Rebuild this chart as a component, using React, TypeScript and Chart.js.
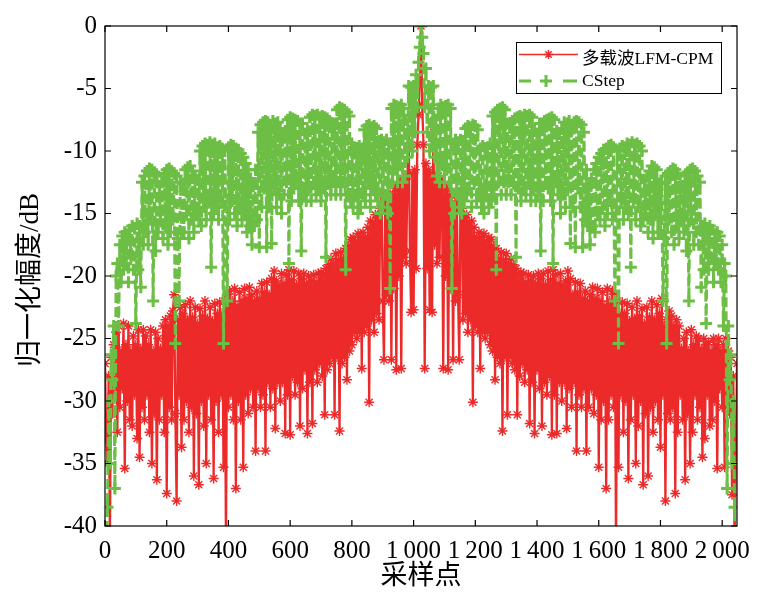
import React, { useEffect, useRef } from "react";
import { Chart, registerables } from "chart.js";

Chart.register(...registerables);

// ---- sample positions (lag index) ----
const STEP = 4;
const LEFT_START = 0; // lags 0..1020
const PEAK_LAG = 1024;
const RIGHT_START = 1028; // lags 1028..2048

// ---- axis ticks ----
const X_TICKS = [0, 200, 400, 600, 800, 1000, 1200, 1400, 1600, 1800, 2000];
const Y_TICKS = [-40, -35, -30, -25, -20, -15, -10, -5, 0];

// ---- names ----
const SERIES_NAMES = ["多载波LFM-CPM", "CStep"];
const X_TITLE = "采样点";
const Y_TITLE = "归一化幅度/dB";

// ---- 多载波LFM-CPM (dB) ----
const RED_LEFT = [
  -27, -33, -35, -28, -41, -26.5, -31, -25.5, -29, -24.5, -32.5, -24, -30.5, -26, -29, -23.8,
  -35.4, -25.5, -30, -24, -31.5, -26, -32, -24.8, -29.5, -25.5, -33, -24.3, -34.5, -25.8, -30.5, -24.3,
  -31.5, -24.8, -29.5, -25.5, -32.5, -24.3, -35, -26, -31, -24.5, -36.3, -25, -31.5, -25.8, -29.5, -24,
  -32.5, -23.5, -37.4, -24, -30.5, -23.2, -31.5, -22.8, -21.5, -31, -38, -23.5, -29.5, -22.5, -33.7, -23,
  -31.5, -22.3, -30, -23.5, -32.5, -22, -30.5, -23.3, -36, -22.5, -31, -23.8, -36.7, -22.6, -30, -23.2,
  -32, -22, -35, -23.4, -29.5, -22.5, -31.5, -23.6, -36.2, -22.2, -30, -23, -32.5, -22.1, -29.5, -23,
  -35.3, -22, -42, -21.5, -30.5, -21.2, -29.5, -22, -31.5, -21, -37, -22.4, -30, -21.3, -31.5, -22,
  -35.3, -21, -29.5, -21.8, -31, -20.9, -29, -21.5, -30.5, -22, -34, -21.2, -29, -21.8, -30.5, -20.6,
  -29.5, -21.3, -34, -20.5, -28.5, -21.5, -30.5, -20.2, -29, -19.6, -32.2, -20.4, -28.5, -20.8, -30, -19.8,
  -28.5, -20.6, -32.6, -19.9, -29.5, -19.5, -32.7, -20.3, -28, -19.6, -29.5, -20.7, -28.5, -19.8, -32, -20.2,
  -29, -19.8, -27.5, -20.6, -32.6, -20, -28.5, -20.4, -31.8, -19.9, -27.5, -20.5, -28.5, -19.8, -27, -19.7,
  -28, -19.9, -31.1, -19.4, -27.5, -19.1, -27, -18.6, -26.5, -19, -31.1, -18.2, -26.5, -18.7, -32.4, -18.1,
  -27, -18.6, -26.5, -17.8, -28.3, -17.6, -26, -17.1, -25.5, -16.9, -24.5, -17.2, -25, -16.6, -24.5, -16.9,
  -27.4, -16.5, -24.5, -16.9, -24, -16.1, -30.1, -15.6, -23.5, -15.7, -24.5, -15.1, -23, -15.3, -23.5, -14.6,
  -13.4, -22, -26.7, -14, -21.5, -14.5, -22, -13.5, -26.7, -13.5, -21, -13, -27.5, -12.8, -20, -12.5,
  -27.4, -12.3, -18.5, -12, -19, -12, -8.5, -18, -22.9, -11.8, -22.7, -11.5, -19.4, -9.5, -7.1, -4.5,
];
const RED_PEAK = 0;
const RED_RIGHT = [
  -6.3, -9.5, -27.4, -11, -19.4, -11.5, -22.7, -11.8, -22.9, -8.5, -17.5, -12, -19, -12, -18.5, -12.3,
  -12.5, -27.4, -12.8, -20, -13, -27.5, -13.5, -21, -13.5, -26.7, -14.5, -22, -14, -21.5, -26.7, -13.4,
  -14.6, -23.5, -15.3, -23, -15.1, -24.5, -15.7, -23.5, -15.6, -30.1, -16.1, -24, -16.9, -24.5, -16.5, -27.4,
  -16.9, -24.5, -16.6, -25, -17.2, -24.5, -16.9, -25.5, -17.1, -26, -17.6, -28.3, -17.8, -26.5, -18.6, -27,
  -18.1, -32.4, -18.7, -26.5, -18.2, -31.1, -19, -26.5, -18.6, -27, -19.1, -27.5, -19.4, -31.1, -19.9, -28,
  -19.7, -27, -19.8, -28.5, -20.5, -27.5, -19.9, -31.8, -20.4, -28.5, -20, -32.6, -20.6, -27.5, -19.8, -29,
  -20.2, -32, -19.8, -28.5, -20.7, -29.5, -19.6, -28, -20.3, -32.7, -19.5, -29.5, -19.9, -32.6, -20.6, -28.5,
  -19.8, -30, -20.8, -28.5, -20.4, -32.2, -19.6, -29, -20.2, -30.5, -21.5, -28.5, -20.5, -34, -21.3, -29.5,
  -20.6, -30.5, -21.8, -29, -21.2, -34, -22, -30.5, -21.5, -29, -20.9, -31, -21.8, -29.5, -21, -35.3,
  -22, -31.5, -21.3, -30, -22.4, -37, -21, -31.5, -22, -29.5, -21.2, -30.5, -21.5, -42, -22, -35.3,
  -23, -29.5, -22.1, -32.5, -23, -30, -22.2, -36.2, -23.6, -31.5, -22.5, -29.5, -23.4, -35, -22, -32,
  -23.2, -30, -22.6, -36.7, -23.8, -31, -22.5, -36, -23.3, -30.5, -22, -32.5, -23.5, -30, -22.3, -31.5,
  -23, -33.7, -21.8, -29.5, -24, -38, -23.5, -31, -22.8, -31.5, -23.2, -30.5, -24, -37.4, -23.5, -32.5,
  -24, -29.5, -25.8, -31.5, -25, -36.3, -24.5, -31, -26, -35, -24.3, -32.5, -25.5, -29.5, -24.8, -31.5,
  -25, -30.5, -25.8, -34.5, -25, -33, -25.5, -29.5, -25.3, -32, -26, -31.5, -25, -30, -25.5, -35.4,
  -25, -29, -26, -30.5, -25.5, -35.3, -25, -29.5, -26, -31, -26.5, -37.5, -28, -41, -35, -27,
];

// ---- CStep (dB) ----
const GREEN_LEFT = [
  -46, -42, -38.5, -30, -35, -26.3, -28.3, -24, -37, -20, -19, -24, -17.5, -20.5, -16.8, -19.5,
  -16.5, -19, -17, -20.5, -16.3, -18.5, -16, -19.5, -16.2, -23.8, -15.8, -19.5, -16, -20.9, -12.5, -17.5,
  -12, -16.5, -11.6, -17.5, -11.4, -15.5, -11.5, -22, -11.7, -18, -12, -16.5, -12.8, -15.5, -12.5, -17,
  -11.8, -16, -11.5, -17.5, -11.4, -16.5, -11.6, -15.5, -11.8, -25.4, -12, -17, -22, -12.5, -16.5, -12.6,
  -16.5, -11.5, -15, -11.3, -17, -11.2, -15.5, -11.6, -16.5, -12, -15, -12.3, -15.5, -10, -16, -9.6,
  -14.5, -9.4, -15.5, -9.5, -14, -9.3, -19.3, -9.5, -15, -9.4, -14.5, -9.7, -15.5, -9.6, -14, -9.8,
  -25.4, -10, -14.5, -22, -9.7, -15.5, -9.5, -14, -9.6, -15, -9.8, -16, -9.9, -14.5, -10.2, -15.5,
  -10.5, -15, -11, -16.5, -11.5, -16, -12.2, -17.5, -12.8, -16, -11.5, -15.5, -8.5, -17.7, -7.9, -14.5,
  -7.7, -13, -7.6, -17.7, -7.7, -14.5, -7.9, -17.4, -7.6, -13, -7.8, -14.5, -7.7, -13.5, -8.2, -15,
  -8.6, -13.5, -8.4, -12.5, -7.5, -19, -7.3, -14, -7.4, -13, -7.5, -12.5, -7.6, -14, -7.8, -18,
  -7.8, -13.5, -8.6, -14, -8.4, -13, -7.3, -14, -7.1, -12.5, -7.2, -13.5, -7.1, -13, -7.3, -14,
  -7.2, -13, -7.3, -18.5, -7.4, -12.5, -7.6, -13.5, -8.1, -12.5, -7.8, -13.5, -6.7, -12.5, -6.5, -13.5,
  -6.6, -12.5, -6.7, -19.5, -6.9, -13.5, -7.2, -14, -9.4, -14.5, -9.7, -13.5, -9.8, -15, -9.6, -14.5,
  -9.8, -13.5, -8.3, -14, -8, -12.5, -7.9, -14.5, -8.1, -13, -8, -13.5, -8.2, -14, -9.2, -15,
  -9.1, -14.5, -9.3, -13.5, -9.1, -15, -9.4, -21, -6.6, -12.5, -6.3, -11.5, -6.4, -12.5, -6.5, -11,
  -6.3, -12.5, -6.6, -12, -7.5, -10.5, -4.8, -9.5, -4.9, -10, -4.8, -8.5, -3.9, -6.5, -2.9, -1.7,
];
const GREEN_PEAK = 0;
const GREEN_RIGHT = [
  -0.9, -2.2, -6.5, -3.4, -8.5, -4.8, -10, -4.9, -9.5, -4.8, -10.5, -7.5, -12, -6.6, -12.5, -6.3,
  -11, -6.5, -12.5, -6.4, -11.5, -6.3, -12.5, -6.6, -21, -9.4, -15, -9.1, -13.5, -9.3, -14.5, -9.1,
  -15, -9.2, -14, -8.2, -13.5, -8, -13, -8.1, -14.5, -7.9, -12.5, -8, -14, -8.3, -13.5, -9.8,
  -14.5, -9.6, -15, -9.8, -13.5, -9.7, -14.5, -9.4, -14, -7.2, -13.5, -6.9, -19.5, -6.7, -12.5, -6.6,
  -13.5, -6.5, -12.5, -6.7, -13.5, -7.8, -12.5, -8.1, -13.5, -7.6, -12.5, -7.4, -18.5, -7.3, -13, -7.2,
  -14, -7.3, -13, -7.1, -13.5, -7.2, -12.5, -7.1, -14, -7.3, -13, -8.4, -14, -8.6, -13.5, -7.8,
  -18, -7.8, -14, -7.6, -12.5, -7.5, -13, -7.4, -14, -7.3, -19, -7.5, -12.5, -8.4, -13.5, -8.6,
  -15, -8.2, -13.5, -7.7, -14.5, -7.8, -13, -7.6, -17.4, -7.9, -14.5, -7.7, -17.7, -7.6, -13, -7.7,
  -14.5, -7.9, -17.7, -8.5, -15.5, -11.5, -16, -12.8, -17.5, -12.2, -16, -11.5, -16.5, -11, -15, -10.5,
  -15.5, -10.2, -14.5, -9.9, -16, -9.8, -15, -9.6, -14, -9.5, -15.5, -9.7, -22, -14.5, -10, -25.4,
  -9.8, -14, -9.6, -15.5, -9.7, -14.5, -9.4, -15, -9.5, -19.3, -9.3, -14, -9.5, -15.5, -9.4, -14.5,
  -9.6, -16, -10, -15.5, -12.3, -15, -12, -16.5, -11.6, -15.5, -11.2, -17, -11.3, -15, -11.5, -16.5,
  -12.6, -16.5, -12.5, -22, -17, -12, -25.4, -11.8, -15.5, -11.6, -16.5, -11.4, -17.5, -11.5, -16, -11.8,
  -17, -12.5, -15.5, -12.8, -16.5, -12, -18, -11.7, -22, -11.5, -15.5, -11.4, -17.5, -11.6, -16.5, -12,
  -17.5, -12.5, -20.9, -16, -19.5, -15.8, -23.8, -16.2, -19.5, -16, -18.5, -16.3, -20.5, -17, -19, -16.5,
  -19.5, -16.8, -20.5, -17.5, -24, -19, -20, -37, -24, -28.3, -26.3, -35, -30, -38.5, -42, -46,
];

const RED = "#EC2A2A";
const GREEN = "#6CBE45";
const SERIF = "'Liberation Serif', 'Times New Roman', serif";
const MIXED = "'Liberation Serif', 'Noto Sans CJK SC', serif";

function buildPoints(left: number[], peak: number, right: number[]) {
  const pts: { x: number; y: number }[] = [];
  left.forEach((y, i) => pts.push({ x: LEFT_START + i * STEP, y }));
  pts.push({ x: PEAK_LAG, y: peak });
  right.forEach((y, i) => pts.push({ x: RIGHT_START + i * STEP, y }));
  return pts;
}

function formatX(v: number) {
  if (v >= 1000) {
    const th = Math.floor(v / 1000);
    const rest = String(v % 1000).padStart(3, "0");
    return th + "\u2009" + rest;
  }
  return String(v);
}

function drawStar(ctx: CanvasRenderingContext2D, x: number, y: number, r: number) {
  ctx.beginPath();
  for (let k = 0; k < 4; k++) {
    const a = (k * Math.PI) / 4;
    ctx.moveTo(x - Math.cos(a) * r, y - Math.sin(a) * r);
    ctx.lineTo(x + Math.cos(a) * r, y + Math.sin(a) * r);
  }
  ctx.stroke();
}

const decorPlugin = {
  id: "decor",
  afterDraw(chart: any) {
    const { ctx, chartArea: a, scales } = chart;
    const xs = scales.x;
    const ys = scales.y;
    ctx.save();
    ctx.strokeStyle = "#000";
    ctx.lineWidth = 1.2;
    ctx.strokeRect(a.left, a.top, a.right - a.left, a.bottom - a.top);
    const TL = 6;
    ctx.beginPath();
    for (const v of X_TICKS) {
      const px = xs.getPixelForValue(v);
      ctx.moveTo(px, a.bottom);
      ctx.lineTo(px, a.bottom - TL);
      ctx.moveTo(px, a.top);
      ctx.lineTo(px, a.top + TL);
    }
    for (const v of Y_TICKS) {
      const py = ys.getPixelForValue(v);
      ctx.moveTo(a.left, py);
      ctx.lineTo(a.left + TL, py);
      ctx.moveTo(a.right, py);
      ctx.lineTo(a.right - TL, py);
    }
    ctx.stroke();

    ctx.fillStyle = "#000";
    ctx.font = "27px " + MIXED;
    ctx.textAlign = "center";
    ctx.textBaseline = "middle";
    ctx.fillText(X_TITLE, (a.left + a.right) / 2, 577);
    ctx.save();
    ctx.translate(31, (a.top + a.bottom) / 2 + 4);
    ctx.rotate(-Math.PI / 2);
    ctx.fillText(Y_TITLE, 0, 0);
    ctx.restore();

    // legend
    const bx = 516, by = 42, bw = 205, bh = 51;
    ctx.fillStyle = "#fff";
    ctx.fillRect(bx, by, bw, bh);
    ctx.lineWidth = 1;
    ctx.strokeStyle = "#000";
    ctx.strokeRect(bx + 0.5, by + 0.5, bw, bh);

    ctx.strokeStyle = RED;
    ctx.lineWidth = 1.6;
    ctx.beginPath();
    ctx.moveTo(519, 54.5);
    ctx.lineTo(578, 54.5);
    ctx.stroke();
    ctx.lineWidth = 1.4;
    drawStar(ctx, 548.5, 54.5, 4.5);

    ctx.strokeStyle = GREEN;
    ctx.lineWidth = 3;
    ctx.beginPath();
    ctx.moveTo(519, 81);
    ctx.lineTo(531, 81);
    ctx.moveTo(563, 81);
    ctx.lineTo(577, 81);
    ctx.stroke();
    ctx.beginPath();
    ctx.moveTo(540, 81);
    ctx.lineTo(552, 81);
    ctx.moveTo(546, 75);
    ctx.lineTo(546, 87);
    ctx.stroke();

    ctx.fillStyle = "#000";
    ctx.font = "17.5px " + MIXED;
    ctx.textAlign = "left";
    ctx.textBaseline = "alphabetic";
    ctx.fillText(SERIES_NAMES[0], 582, 64);
    ctx.fillText(SERIES_NAMES[1], 582, 86);
    ctx.restore();
  },
};

export default function App() {
  const ref = useRef<HTMLCanvasElement | null>(null);
  useEffect(() => {
    if (!ref.current) return;
    const tickFont = { family: SERIF, size: 25 };
    const chart = new Chart(ref.current, {
      type: "line",
      data: {
        datasets: [
          {
            label: SERIES_NAMES[0],
            data: buildPoints(RED_LEFT, RED_PEAK, RED_RIGHT),
            borderColor: RED,
            backgroundColor: RED,
            borderWidth: 2.3,
            pointStyle: "star",
            pointRadius: 5,
            pointBorderWidth: 1.4,
            pointBorderColor: RED,
            pointBackgroundColor: RED,
            tension: 0,
            order: 1,
          },
          {
            label: SERIES_NAMES[1],
            data: buildPoints(GREEN_LEFT, GREEN_PEAK, GREEN_RIGHT),
            borderColor: GREEN,
            backgroundColor: GREEN,
            borderWidth: 3,
            borderDash: [10, 4],
            pointStyle: "cross",
            pointRadius: 6,
            pointBorderWidth: 3,
            pointBorderColor: GREEN,
            pointBackgroundColor: GREEN,
            tension: 0,
            order: 0,
          },
        ],
      },
      options: {
        animation: false,
        responsive: false,
        events: [],
        layout: { padding: { top: 26, right: 32, bottom: 0, left: 0 } },
        plugins: {
          legend: { display: false },
          tooltip: { enabled: false },
          title: { display: false },
        },
        scales: {
          x: {
            type: "linear",
            min: 0,
            max: 2048,
            grid: { display: false, drawTicks: false },
            border: { display: false },
            afterBuildTicks: (s: any) => {
              s.ticks = X_TICKS.map((v) => ({ value: v }));
            },
            afterFit: (s: any) => {
              s.height = 78;
              s.paddingLeft = 0;
              s.paddingRight = 0;
            },
            ticks: {
              font: tickFont,
              color: "#000",
              padding: 10,
              maxRotation: 0,
              minRotation: 0,
              autoSkip: false,
              includeBounds: false,
              callback: (v: any) => formatX(Number(v)),
            },
          },
          y: {
            type: "linear",
            min: -40,
            max: 0,
            grid: { display: false, drawTicks: false },
            border: { display: false },
            afterBuildTicks: (s: any) => {
              s.ticks = Y_TICKS.map((v) => ({ value: v }));
            },
            afterFit: (s: any) => {
              s.width = 105;
              s.paddingTop = 0;
              s.paddingBottom = 0;
            },
            ticks: {
              font: tickFont,
              color: "#000",
              padding: 8,
              autoSkip: false,
              includeBounds: false,
              callback: (v: any) => String(v),
            },
          },
        },
      },
      plugins: [decorPlugin],
    } as any);
    return () => chart.destroy();
  }, []);
  return (
    <div
      style={{
        position: "fixed",
        left: 0,
        top: 0,
        width: 769,
        height: 604,
        background: "#fff",
      }}
    >
      <canvas ref={ref} width={769} height={604} style={{ width: 769, height: 604, display: "block" }} />
    </div>
  );
}
